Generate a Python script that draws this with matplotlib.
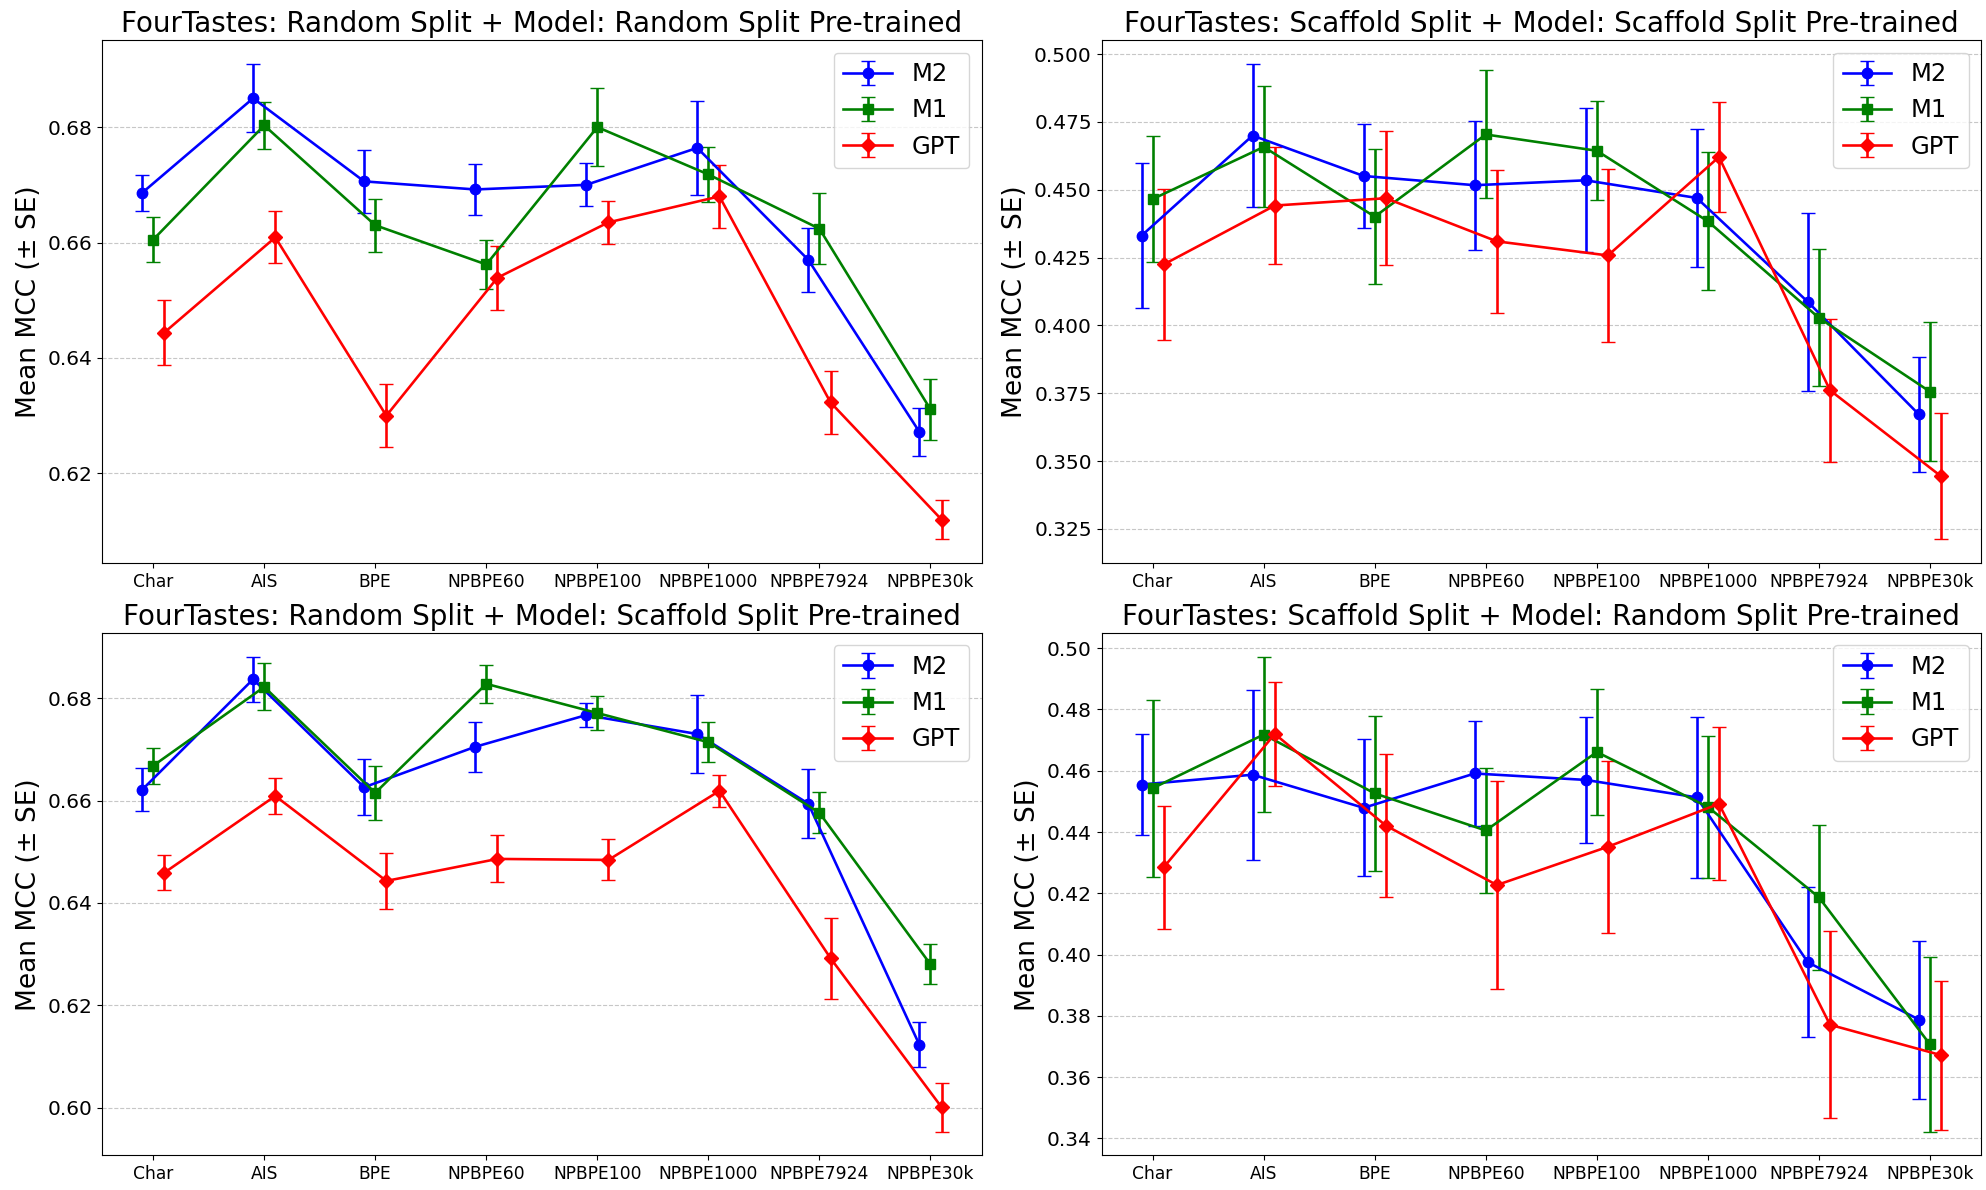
import matplotlib
matplotlib.use("Agg")
import matplotlib.pyplot as plt
import numpy as np

categories = ["Char", "AIS", "BPE", "NPBPE60", "NPBPE100", "NPBPE1000", "NPBPE7924", "NPBPE30k"]
models = ["M2", "M1", "GPT"]
colors = {"M2": "blue", "M1": "green", "GPT": "red"}
markers = {"M2": "o", "M1": "s", "GPT": "D"}
offsets = {"M2": -0.1, "M1": 0.0, "GPT": 0.1}

titles = [
    "FourTastes: Random Split + Model: Random Split Pre-trained",
    "FourTastes: Scaffold Split + Model: Scaffold Split Pre-trained",
    "FourTastes: Random Split + Model: Scaffold Split Pre-trained",
    "FourTastes: Scaffold Split + Model: Random Split Pre-trained",
]

# Panel 1: Random split / Random pre-trained
p1_m2_mean = [0.6686, 0.6850, 0.6706, 0.6692, 0.6700, 0.6764, 0.6570, 0.6272]
p1_m2_se = [0.0031, 0.0059, 0.0055, 0.0044, 0.0037, 0.0082, 0.0055, 0.0042]
p1_m1_mean = [0.6605, 0.6803, 0.6630, 0.6562, 0.6800, 0.6718, 0.6624, 0.6311]
p1_m1_se = [0.0039, 0.0041, 0.0046, 0.0043, 0.0067, 0.0048, 0.0061, 0.0053]
p1_gpt_mean = [0.6444, 0.6609, 0.6300, 0.6539, 0.6635, 0.6680, 0.6323, 0.6120]
p1_gpt_se = [0.0056, 0.0045, 0.0055, 0.0055, 0.0037, 0.0054, 0.0055, 0.0034]

# Panel 2: Scaffold split / Scaffold pre-trained
p2_m2_mean = [0.4331, 0.4700, 0.4551, 0.4517, 0.4535, 0.4470, 0.4087, 0.3672]
p2_m2_se = [0.0267, 0.0263, 0.0193, 0.0238, 0.0266, 0.0254, 0.0328, 0.0211]
p2_m1_mean = [0.4466, 0.4658, 0.4401, 0.4704, 0.4644, 0.4384, 0.4028, 0.3756]
p2_m1_se = [0.0231, 0.0223, 0.0250, 0.0236, 0.0182, 0.0254, 0.0253, 0.0257]
p2_gpt_mean = [0.4225, 0.4442, 0.4469, 0.4310, 0.4258, 0.4621, 0.3761, 0.3444]
p2_gpt_se = [0.0278, 0.0217, 0.0247, 0.0263, 0.0320, 0.0202, 0.0263, 0.0232]

# Panel 3: Random split / Scaffold pre-trained
p3_m2_mean = [0.6621, 0.6837, 0.6626, 0.6705, 0.6767, 0.6730, 0.6594, 0.6123]
p3_m2_se = [0.0042, 0.0044, 0.0055, 0.0049, 0.0023, 0.0076, 0.0067, 0.0044]
p3_m1_mean = [0.6668, 0.6822, 0.6615, 0.6828, 0.6771, 0.6714, 0.6576, 0.6280]
p3_m1_se = [0.0035, 0.0046, 0.0052, 0.0037, 0.0033, 0.0039, 0.0040, 0.0039]
p3_gpt_mean = [0.6459, 0.6609, 0.6443, 0.6486, 0.6484, 0.6619, 0.6292, 0.6001]
p3_gpt_se = [0.0034, 0.0036, 0.0054, 0.0046, 0.0040, 0.0031, 0.0079, 0.0048]

# Panel 4: Scaffold split / Random pre-trained
p4_m2_mean = [0.4555, 0.4587, 0.4479, 0.4591, 0.4570, 0.4513, 0.3975, 0.3788]
p4_m2_se = [0.0164, 0.0277, 0.0224, 0.0171, 0.0206, 0.0262, 0.0244, 0.0258]
p4_m1_mean = [0.4543, 0.4718, 0.4526, 0.4405, 0.4661, 0.4482, 0.4187, 0.3707]
p4_m1_se = [0.0289, 0.0254, 0.0253, 0.0204, 0.0206, 0.0232, 0.0236, 0.0285]
p4_gpt_mean = [0.4285, 0.4720, 0.4421, 0.4227, 0.4352, 0.4492, 0.3771, 0.3672]
p4_gpt_se = [0.0200, 0.0170, 0.0234, 0.0340, 0.0280, 0.0250, 0.0305, 0.0243]

panels = [
    {"M2": (p1_m2_mean, p1_m2_se), "M1": (p1_m1_mean, p1_m1_se), "GPT": (p1_gpt_mean, p1_gpt_se)},
    {"M2": (p2_m2_mean, p2_m2_se), "M1": (p2_m1_mean, p2_m1_se), "GPT": (p2_gpt_mean, p2_gpt_se)},
    {"M2": (p3_m2_mean, p3_m2_se), "M1": (p3_m1_mean, p3_m1_se), "GPT": (p3_gpt_mean, p3_gpt_se)},
    {"M2": (p4_m2_mean, p4_m2_se), "M1": (p4_m1_mean, p4_m1_se), "GPT": (p4_gpt_mean, p4_gpt_se)},
]

plt.rcParams['font.family'] = ['DejaVu Sans']
fig, axes = plt.subplots(2, 2, figsize=(19.86, 11.9), dpi=100)
fig.subplots_adjust(left=0.0514, right=0.9975, top=0.966, bottom=0.029,
                    wspace=0.1365, hspace=0.134)

x = np.arange(len(categories))
for ax, title, data in zip(axes.flat, titles, panels):
    for m in models:
        mean, se = data[m]
        ax.errorbar(x + offsets[m], mean, yerr=se, fmt='-', marker=markers[m],
                    color=colors[m], label=m, capsize=5, linewidth=1.875,
                    markersize=7.5)
    ax.set_title(title, fontsize=20)
    ax.set_ylabel("Mean MCC (± SE)", fontsize=19)
    ax.set_xticks(x)
    ax.set_xticklabels(categories)
    ax.tick_params(axis='x', labelsize=12.3)
    ax.tick_params(axis='y', labelsize=14.5)
    ax.grid(axis='y', linestyle='--', alpha=0.7)
    ax.legend(loc='upper right', fontsize=17.5)

fig.savefig("out.png", dpi=100)
